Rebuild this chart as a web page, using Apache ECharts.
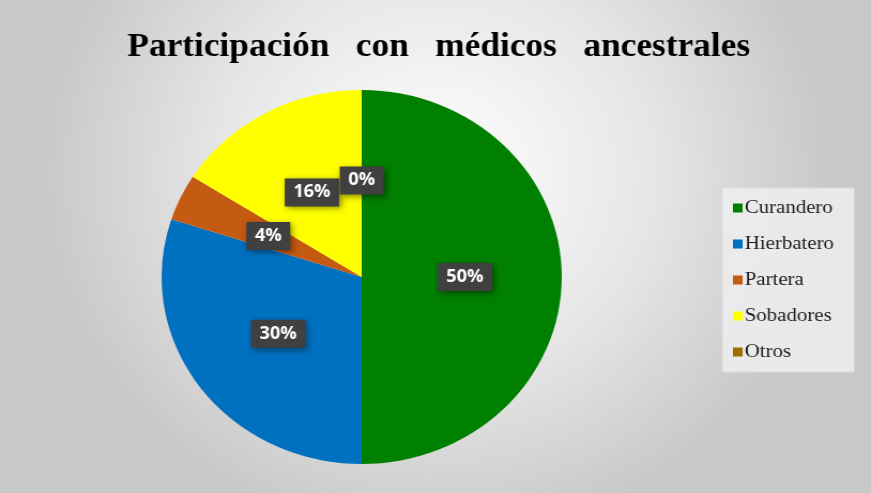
<!DOCTYPE html>
<html>
<head>
<meta charset="utf-8">
<script src="https://cdn.jsdelivr.net/npm/echarts@6/dist/echarts.min.js"></script>
<style>
  html, body { margin: 0; padding: 0; background: #c8c8c8; overflow: hidden; }
  #wrap { width: 871px; height: 493px; overflow: hidden; }
  /* the original picture is stretched a bit horizontally, so the chart is too */
  #main { width: 814px; height: 493px; transform: scaleX(1.07); transform-origin: 0 0; }
</style>
</head>
<body>
<div id="wrap"><div id="main"></div></div>
<script>
  var titleText = 'Participación   con   médicos   ancestrales';
  var categories = ['Curandero', 'Hierbatero', 'Partera', 'Sobadores', 'Otros'];
  var values = [50, 30, 4, 16, 0];
  var colors = ['#008000', '#0070c0', '#c55a11', '#ffff00', '#9c7000'];

  var data = [];
  for (var i = 0; i < categories.length; i++) {
    data.push({ name: categories[i], value: values[i], itemStyle: { color: colors[i] } });
  }

  var chart = echarts.init(document.getElementById('main'));
  var option = {
    animation: false,
    backgroundColor: {
      type: 'radial', x: 0.5, y: 0.35, r: 0.75,
      colorStops: [
        { offset: 0, color: '#ffffff' },
        { offset: 0.55, color: '#e6e6e6' },
        { offset: 1, color: '#c8c8c8' }
      ]
    },
    title: {
      text: titleText,
      left: 405,
      textAlign: 'center',
      top: 26,
      textStyle: {
        fontFamily: 'Liberation Serif',
        fontWeight: 'bold',
        fontSize: 33,
        color: '#000000'
      }
    },
    legend: {
      orient: 'vertical',
      left: 675,
      top: 188,
      padding: [10, 19, 10, 10],
      itemWidth: 9,
      itemHeight: 9,
      itemGap: 16,
      icon: 'rect',
      backgroundColor: 'rgba(238,238,238,0.85)',
      borderColor: '#dcdcdc',
      borderWidth: 1,
      textStyle: {
        fontFamily: 'Liberation Serif',
        fontSize: 19.5,
        color: '#1e1e1e',
        padding: [0, 0, 0, -3]
      },
      data: categories
    },
    series: [{
      type: 'pie',
      center: [338, 277],
      radius: 187,
      startAngle: 90,
      clockwise: true,
      avoidLabelOverlap: false,
      percentPrecision: 0,
      minShowLabelAngle: 0,
      emphasis: { disabled: true },
      itemStyle: { borderWidth: 0 },
      label: {
        show: true,
        position: 'inside',
        formatter: '{d}%',
        color: '#ffffff',
        fontFamily: 'Open Sans',
        fontWeight: 'bold',
        fontSize: 17,
        backgroundColor: '#404040',
        padding: [6, 8, 5, 8],
        shadowColor: 'rgba(0,0,0,0.45)',
        shadowBlur: 6,
        shadowOffsetX: 2,
        shadowOffsetY: 2
      },
      labelLine: { show: false },
      data: data
    }]
  };
  chart.setOption(option);
</script>
</body>
</html>
